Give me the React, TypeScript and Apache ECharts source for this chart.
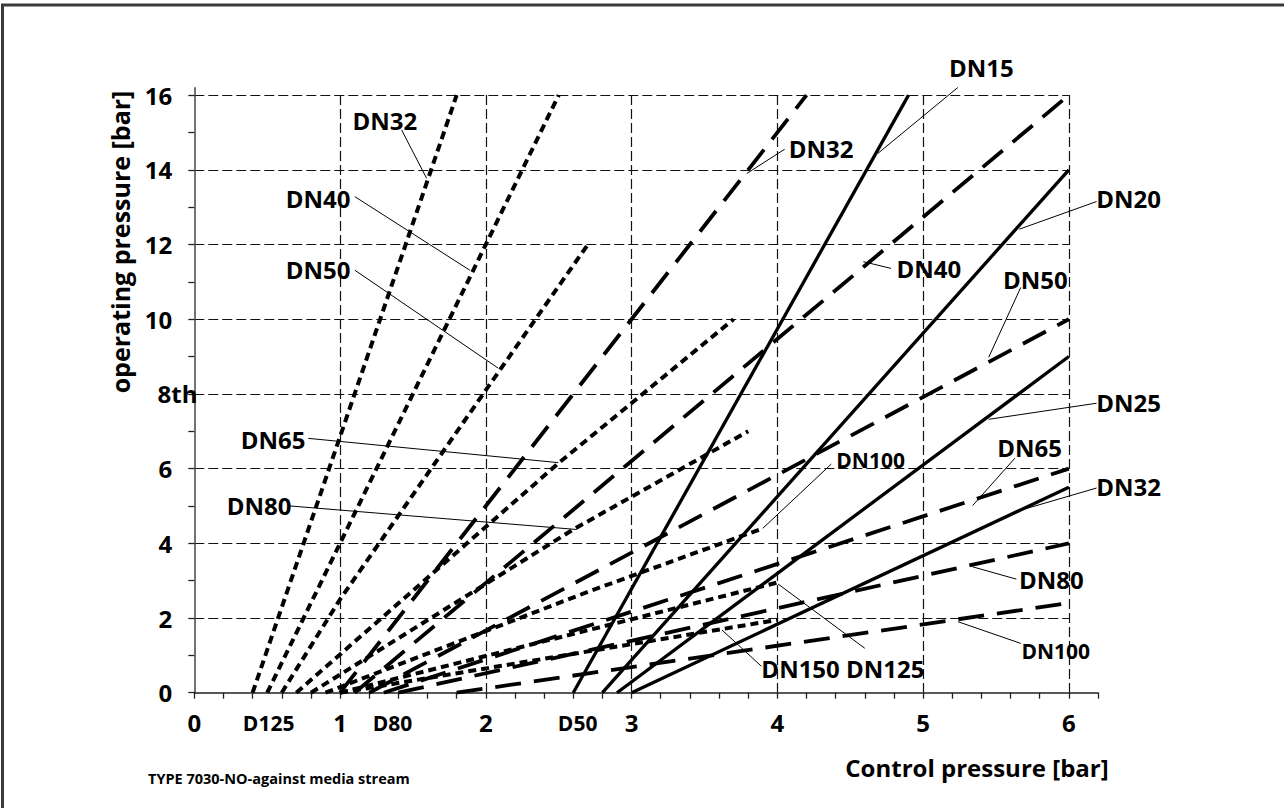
import React, { useEffect, useRef } from "react";
import * as echarts from "echarts";

// ---- axis ticks / labels ----
const xTickValues = [0, 0.2, 0.4, 0.6, 0.8, 1, 1.2, 1.4, 1.6, 1.8, 2, 2.2, 2.4, 2.6, 2.8, 3, 3.2, 3.4, 3.6, 3.8, 4, 4.2, 4.4, 4.6, 4.8, 5, 5.2, 5.4, 5.6, 5.8, 6, 6.2];
const xLabelValues = [0, 0.51, 1, 1.36, 2, 2.63, 3, 4, 5, 6];
const xActuatorLabels: Record<string, string> = { "0.51": "D125", "1.36": "D80", "2.63": "D50" };
const yTickValues = [0, 1, 2, 3, 4, 5, 6, 7, 8, 9, 10, 11, 12, 13, 14, 15, 16];
const yLabelValues = [0, 2, 4, 6, 10, 12, 14, 16];

// ---- short dash: actuator D125 ----
const sdDN32 = [[0.4, 0], [1.8, 16]];
const sdDN40 = [[0.5, 0], [2.5, 16]];
const sdDN50 = [[0.6, 0], [1.0, 2.5], [2.0, 8.1], [2.7, 12]];
const sdDN65 = [[0.7, 0], [2.5, 6.15], [3.7, 10]];
const sdDN80 = [[0.8, 0], [2.6, 4.37], [3.8, 7.0]];
const sdDN100 = [[0.9, 0], [2.7, 2.7], [3.9, 4.4]];
const sdDN125 = [[1.0, 0], [4.0, 2.95]];
const sdDN150 = [[1.0, 0], [4.0, 1.95]];

// ---- long dash: actuator D80 ----
const ldDN32 = [[1.0, 0], [4.2, 16]];
const ldDN40 = [[1.1, 0], [6, 16]];
const ldDN50 = [[1.2, 0], [6, 10]];
const ldDN65 = [[1.3, 0], [6, 6]];
const ldDN80 = [[1.4, 0], [6, 4]];
const ldDN100 = [[1.8, 0], [6, 2.4]];

// ---- solid: actuator D50 ----
const soDN15 = [[2.6, 0], [4.9, 16]];
const soDN20 = [[2.8, 0], [6, 14]];
const soDN25 = [[2.9, 0], [6, 9]];
const soDN32 = [[3.0, 0], [6, 5.5]];

// ---- annotation texts (data coords) and leader lines ----
const annoNames = ["DN32", "DN40", "DN50", "DN65", "DN80", "DN32", "DN40", "DN100", "DN150 DN125", "DN15", "DN20", "DN50", "DN25", "DN65", "DN32", "DN80", "DN100"];
const annoPos = [
  [1.308, 15.33], [0.849, 13.24], [0.849, 11.34], [0.54, 6.79], [0.445, 5.0],
  [4.3, 14.58], [5.04, 11.37], [4.64, 6.23], [4.45, 0.66],
  [5.4, 16.74], [6.41, 13.23], [5.77, 11.07], [6.41, 7.78], [5.73, 6.57], [6.41, 5.51], [5.88, 3.04], [5.91, 1.12],
];
const annoSize = [24, 24, 24, 24, 24, 24, 24, 21, 24, 24, 24, 24, 24, 24, 24, 24, 21];
const leaders = [
  [[1.422, 15.07], [1.594, 13.77]],
  [[1.102, 13.28], [1.891, 11.31]],
  [[1.102, 11.31], [2.085, 8.69]],
  [[0.782, 6.81], [2.497, 6.16]],
  [[0.656, 5.0], [2.623, 4.37]],
  [[4.05, 14.55], [3.79, 13.9]],
  [[4.78, 11.36], [4.59, 11.54]],
  [[4.37, 6.12], [3.9, 4.4]],
  [[3.89, 0.71], [3.62, 1.68]],
  [[4.6, 1.19], [4.005, 2.91]],
  [[5.24, 16.21], [4.69, 14.44]],
  [[6.19, 13.15], [5.66, 12.41]],
  [[5.67, 10.85], [5.45, 8.98]],
  [[6.19, 7.75], [5.45, 7.32]],
  [[5.63, 6.28], [5.34, 5.01]],
  [[6.19, 5.48], [5.69, 4.91]],
  [[5.64, 3.04], [5.34, 3.37]],
  [[5.67, 1.32], [5.24, 1.9]],
];

const FONT = "'Open Sans', 'Noto Sans', sans-serif";

export default function App() {
  const ref = useRef<HTMLDivElement>(null);
  useEffect(() => {
    if (!ref.current) return;
    const chart = echarts.init(ref.current, undefined, { renderer: "svg" });

    const sd = [8, 5];
    const ld = [26, 13];
    const mk = (name: string, data: number[][], type: any, width: number) => ({
      type: "line",
      name,
      data,
      xAxisIndex: 0,
      yAxisIndex: 0,
      showSymbol: false,
      symbol: "none",
      silent: true,
      lineStyle: { color: "#000", width, type, cap: "butt" },
      z: 5,
    });

    const gridLeft = 194.3;
    const xUnit = 145.76;
    const yUnit = 37.35;
    const y0 = 692.7;

    const option: any = {
      animation: false,
      backgroundColor: "#fff",
      grid: [
        { left: gridLeft, top: y0 - 16.2 * yUnit, width: 6.2 * xUnit, height: 16.2 * yUnit },
        { left: gridLeft, top: y0 - 16 * yUnit, width: 6 * xUnit, height: 16 * yUnit },
      ],
      xAxis: [
        {
          type: "value", gridIndex: 0, min: 0, max: 6.2,
          axisLine: { show: true, lineStyle: { color: "#222", width: 1.5 } },
          axisTick: { show: true, customValues: xTickValues, length: 6, lineStyle: { color: "#222", width: 1.3 } },
          splitLine: { show: false },
          axisLabel: {
            show: true,
            customValues: xLabelValues,
            margin: 16,
            formatter: (v: number) => {
              const k = String(v);
              return xActuatorLabels[k] ? "{d|" + xActuatorLabels[k] + "}" : "{n|" + k + "}";
            },
            rich: {
              n: { fontSize: 24, fontWeight: "bold", fontFamily: FONT, color: "#000", lineHeight: 28 },
              d: { fontSize: 21, fontWeight: "bold", fontFamily: FONT, color: "#000", lineHeight: 28 },
            },
          },
        },
        {
          type: "value", gridIndex: 1, min: 0, max: 6, interval: 1,
          axisLine: { show: false }, axisTick: { show: false }, axisLabel: { show: false },
          splitLine: { show: true, showMinLine: false, lineStyle: { color: "#111", width: 1.2, type: [10, 4] } },
        },
      ],
      yAxis: [
        {
          type: "value", gridIndex: 0, min: 0, max: 16.2,
          axisLine: { show: true, lineStyle: { color: "#444", width: 1.5 } },
          axisTick: { show: true, customValues: yTickValues, length: 6, lineStyle: { color: "#222", width: 1.3 } },
          splitLine: { show: false },
          axisLabel: {
            show: true, customValues: yLabelValues, margin: 22,
            fontSize: 24, fontWeight: "bold", fontFamily: FONT, color: "#000",
          },
        },
        {
          type: "value", gridIndex: 1, min: 0, max: 16, interval: 2,
          axisLine: { show: false }, axisTick: { show: false }, axisLabel: { show: false },
          splitLine: { show: true, showMinLine: false, lineStyle: { color: "#111", width: 1.2, type: [10, 4] } },
        },
      ],
      series: [
        mk("SD DN32", sdDN32, sd, 4),
        mk("SD DN40", sdDN40, sd, 4),
        mk("SD DN50", sdDN50, sd, 4),
        mk("SD DN65", sdDN65, sd, 4),
        mk("SD DN80", sdDN80, sd, 4),
        mk("SD DN100", sdDN100, sd, 4),
        mk("SD DN125", sdDN125, sd, 4),
        mk("SD DN150", sdDN150, sd, 4),
        mk("LD DN32", ldDN32, ld, 3.8),
        mk("LD DN40", ldDN40, ld, 3.8),
        mk("LD DN50", ldDN50, ld, 3.8),
        mk("LD DN65", ldDN65, ld, 3.8),
        mk("LD DN80", ldDN80, ld, 3.8),
        mk("LD DN100", ldDN100, ld, 3.8),
        mk("SO DN15", soDN15, "solid", 3.3),
        mk("SO DN20", soDN20, "solid", 3.3),
        mk("SO DN25", soDN25, "solid", 3.3),
        mk("SO DN32", soDN32, "solid", 3.3),
        {
          type: "lines",
          coordinateSystem: "cartesian2d",
          xAxisIndex: 0,
          yAxisIndex: 0,
          silent: true,
          z: 6,
          lineStyle: { color: "#000", width: 1, opacity: 1 },
          data: leaders.map((c) => ({ coords: c })),
        },
        {
          type: "scatter",
          xAxisIndex: 0,
          yAxisIndex: 0,
          silent: true,
          clip: false,
          z: 7,
          symbolSize: 1,
          itemStyle: { color: "rgba(0,0,0,0)" },
          label: {
            show: true, position: "inside", formatter: "{b}", opacity: 1,
            color: "#000", fontWeight: "bold", fontFamily: FONT, fontSize: 24,
            textBorderWidth: 0,
          },
          data: [
            ...annoNames.map((n, i) => ({ name: n, value: annoPos[i], label: { fontSize: annoSize[i] } })),
            { name: "8th", value: [0, 8], label: { fontSize: 24, offset: [-16.8, 0] } },
          ],
        },
      ],
      graphic: [
        {
          type: "rect", z: -10, silent: true,
          shape: { x: 2.5, y: 5, width: 1400, height: 1000 },
          style: { fill: "none", stroke: "#3a3a3a", lineWidth: 3 },
        },
        {
          type: "text", x: 120, y: 242, rotation: Math.PI / 2, silent: true,
          style: {
            text: "operating pressure [bar]", fill: "#000", font: "bold 25px " + FONT,
            textAlign: "center", textVerticalAlign: "middle",
          },
        },
        {
          type: "text", x: 977, y: 767, silent: true,
          style: {
            text: "Control pressure [bar]", fill: "#000", font: "bold 24px " + FONT,
            textAlign: "center", textVerticalAlign: "middle",
          },
        },
        {
          type: "text", x: 148, y: 778, silent: true,
          style: {
            text: "TYPE 7030-NO-against media stream", fill: "#000", font: "bold 14.5px " + FONT,
            textAlign: "left", textVerticalAlign: "middle",
          },
        },
      ],
    };
    chart.setOption(option);
    return () => chart.dispose();
  }, []);
  return <div ref={ref} style={{ position: "absolute", left: 0, top: 0, width: 1284, height: 808 }} />;
}
